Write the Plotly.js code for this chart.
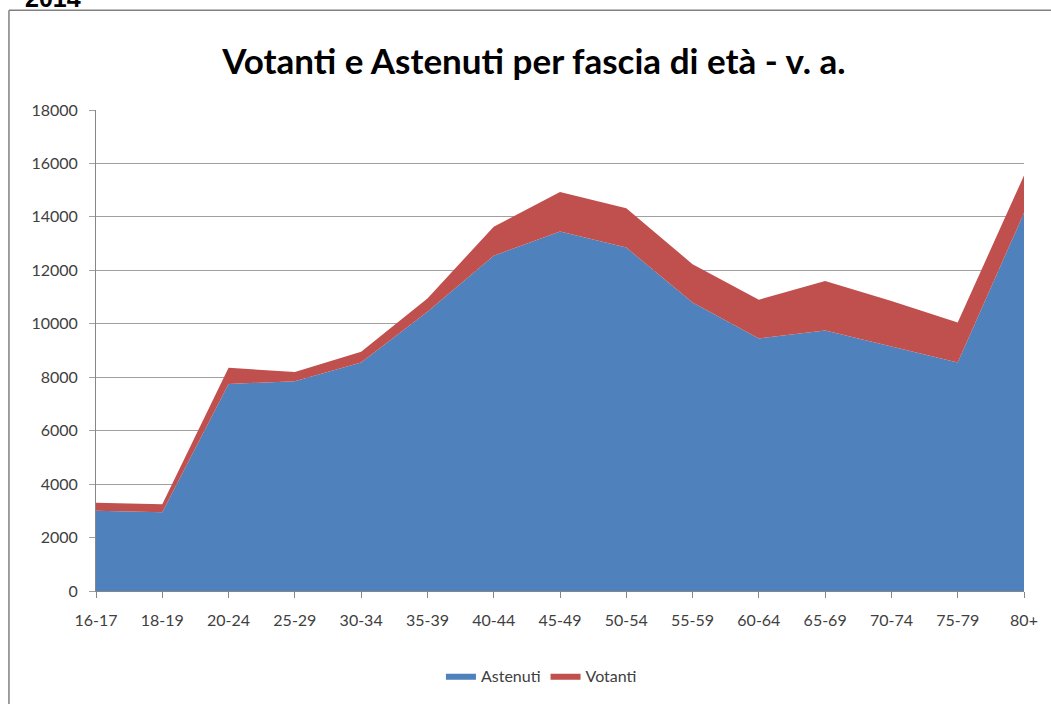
<!DOCTYPE html>
<html>
<head>
<meta charset="utf-8">
<script src="https://cdn.plot.ly/plotly-3.0.1.min.js"></script>
<style>
  html, body { margin: 0; padding: 0; background: #ffffff; }
  #chart { width: 1051px; height: 704px; }
</style>
</head>
<body>
<div id="chart"></div>
<script>
const categories = ["16-17","18-19","20-24","25-29","30-34","35-39","40-44","45-49","50-54","55-59","60-64","65-69","70-74","75-79","80+"];
const astenuti = [3000, 2950, 7750, 7850, 8550, 10450, 12550, 13450, 12850, 10800, 9450, 9750, 9150, 8550, 14150];
const votanti  = [300, 300, 600, 350, 400, 500, 1080, 1480, 1470, 1430, 1450, 1850, 1700, 1500, 1400];
const yTicks = [0, 2000, 4000, 6000, 8000, 10000, 12000, 14000, 16000, 18000];

const FONT = "Lato, 'Open Sans', sans-serif";

const traces = [
  {
    x: categories, y: astenuti, name: "Astenuti", type: "scatter", mode: "lines",
    stackgroup: "one", line: {width: 0, color: "#4F81BD"}, fillcolor: "#4F81BD",
    hoverinfo: "x+y+name"
  },
  {
    x: categories, y: votanti, name: "Votanti", type: "scatter", mode: "lines",
    stackgroup: "one", line: {width: 0, color: "#C0504D"}, fillcolor: "#C0504D",
    hoverinfo: "x+y+name"
  }
];

const layout = {
  width: 1051, height: 704,
  margin: {l: 96, r: 27, t: 110, b: 112},
  paper_bgcolor: "#ffffff", plot_bgcolor: "#ffffff",
  font: {family: FONT, size: 16, color: "#404040"},
  title: {
    text: "Votanti e Astenuti per fascia di età - v. a.",
    font: {family: FONT, size: 35, color: "#000000", weight: "bold"},
    x: 0.508, xanchor: "center", y: 0.912, yanchor: "middle"
  },
  xaxis: {
    type: "category", range: [0, categories.length - 1],
    showgrid: false, zeroline: false,
    showline: true, linecolor: "#868686", linewidth: 1,
    ticks: "outside", ticklen: 6, tickcolor: "#868686",
    ticklabelstandoff: 9,
    tickfont: {family: FONT, size: 16, color: "#404040"}
  },
  yaxis: {
    range: [0, 18000], tickvals: yTicks, ticktext: yTicks.map(String),
    showgrid: true, gridcolor: "#a0a0a0", gridwidth: 1,
    zeroline: false, showline: true, linecolor: "#868686", linewidth: 1,
    ticks: "outside", ticklen: 6, tickcolor: "#a0a0a0",
    ticklabelstandoff: 8,
    tickfont: {family: FONT, size: 16, color: "#404040"}
  },
  showlegend: true,
  legend: {
    orientation: "h", x: 0.48, xanchor: "center", y: -0.174, yanchor: "middle",
    font: {family: FONT, size: 16, color: "#404040"},
    itemwidth: 30, traceorder: "normal"
  },
  shapes: [
    {type: "line", xref: "paper", yref: "paper", x0: -0.0938, x1: -0.0938, y0: 1.2075, y1: -0.235,
     line: {color: "#808080", width: 1.5}},
    {type: "line", xref: "paper", yref: "paper", x0: -0.0938, x1: 1.03, y0: 1.2075, y1: 1.2075,
     line: {color: "#808080", width: 1.5}}
  ],
  annotations: [
    {text: "2014", xref: "paper", yref: "paper", x: -0.079, xanchor: "left",
     y: 1.199, yanchor: "bottom", showarrow: false,
     font: {family: "Liberation Sans, Arial, sans-serif", size: 25, color: "#000000", weight: "bold"}}
  ]
};

Plotly.newPlot("chart", traces, layout, {displayModeBar: false, staticPlot: true});
</script>
</body>
</html>
